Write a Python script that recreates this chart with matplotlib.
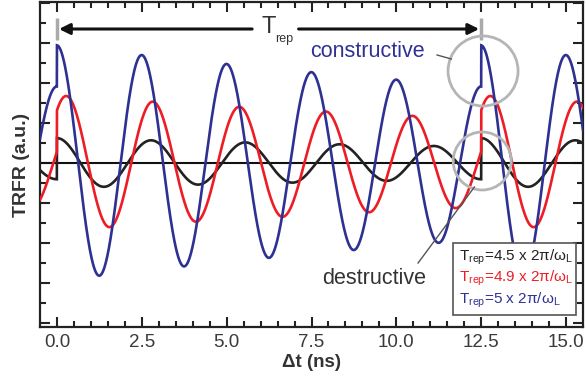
import numpy as np
import matplotlib
matplotlib.use("Agg")
import matplotlib.pyplot as plt
from matplotlib.patches import Ellipse, Rectangle, FancyArrowPatch

plt.rcParams['font.family'] = ['Liberation Sans', 'DejaVu Sans']
plt.rcParams['mathtext.fontset'] = 'custom'
plt.rcParams['mathtext.rm'] = 'Liberation Sans'
plt.rcParams['mathtext.it'] = 'Liberation Sans:italic'

# --- data -------------------------------------------------------------
t_rep = 12.5                              # pulse repetition time (ns)
periods_per_rep = [4.5, 4.9, 5.0]         # T_rep in units of 2*pi/omega_L
series_colors = ['#222222', '#ee1c25', '#2e3192']
legend_labels = ['4.5', '4.9', '5']
amplitude = 1.03                          # single-pulse TRFR amplitude (a.u.)
decay_time = 29.0                         # spin dephasing time (ns)
n_pulses = 30                             # number of previous pulses summed
x_ticks = [0.0, 2.5, 5.0, 7.5, 10.0, 12.5, 15.0]
x_ticklabels = ['0.0', '2.5', '5.0', '7.5', '10.0', '12.5', '15.0']

# --- figure -----------------------------------------------------------
fig = plt.figure(figsize=(5.86, 3.89), dpi=100)
ax = fig.add_axes([40 / 586, 62 / 389, 543 / 586, 325 / 389])

t = np.linspace(-0.5, 15.5, 4000)


def trfr(t, n_per):
    """Sum of damped precession signals from a train of pulses."""
    omega = 2 * np.pi * n_per / t_rep
    sig = np.zeros_like(t)
    for k in range(-1, n_pulses):
        t0 = -k * t_rep
        dt = t - t0
        m = dt >= 0
        sig[m] += amplitude * np.exp(-dt[m] / decay_time) * np.cos(omega * dt[m])
    return sig


for n_per, col in zip(periods_per_rep, series_colors):
    ax.plot(t, trfr(t, n_per), color=col, lw=1.9, solid_joinstyle='miter',
            zorder=3)

ax.axhline(0, color='#111111', lw=1.5, zorder=2)

ax.set_xlim(-0.5, 15.5)
ax.set_ylim(-4.1, 4.025)
ax.set_xticks(x_ticks)
ax.set_xticklabels(x_ticklabels)
ax.set_xticks(np.arange(0, 15.01, 0.5), minor=True)
ax.set_yticks(np.arange(-4, 4.01, 1))
ax.set_yticks(np.arange(-4, 4.01, 0.5), minor=True)
ax.set_yticklabels([])
ax.tick_params(which='both', direction='in', top=True, right=True,
               width=1.5, color='#222222')
ax.tick_params(which='major', length=7)
ax.tick_params(which='minor', length=4)
ax.tick_params(axis='x', labelsize=13.5, labelcolor='#3a3a3a', pad=5)
for s in ax.spines.values():
    s.set_linewidth(1.6)
    s.set_color('#222222')

ax.set_xlabel('Δt (ns)', fontsize=13.5, fontweight='bold', color='#333333',
              labelpad=2)
ax.set_ylabel('TRFR (a.u.)', fontsize=14, fontweight='bold', color='#333333',
              labelpad=4)

# --- repetition period marker ----------------------------------------
for xm in (0.0, t_rep):
    ax.plot([xm, xm], [3.08, 3.62], color='#aaaaaa', lw=2.5, zorder=4,
            solid_capstyle='butt')
y_arr = 3.35
for x_from, x_to in ((5.75, 0.06), (7.12, t_rep - 0.06)):
    ax.add_patch(FancyArrowPatch((x_from, y_arr), (x_to, y_arr),
                                 arrowstyle='-|>', mutation_scale=16,
                                 color='#111111', lw=2.2, shrinkA=0, shrinkB=0,
                                 zorder=5))
ax.text(6.04, 3.4, 'T', fontsize=17, color='#333333',
        ha='left', va='center')
ax.text(6.44, 3.1, 'rep', fontsize=9, color='#333333',
        ha='left', va='center')

# --- highlighted pulse arrivals --------------------------------------
px_x = 33.93   # pixels per ns
px_y = 40.0    # pixels per unit
ax.add_patch(Ellipse((12.555, 2.3), 2 * 35 / px_x, 2 * 35 / px_y, fill=False,
                     ec='#b5b5b5', lw=2, zorder=6))
ax.add_patch(Ellipse((12.53, 0.05), 2 * 29 / px_x, 2 * 29 / px_y, fill=False,
                     ec='#b5b5b5', lw=2, zorder=6))

ax.text(7.46, 2.78, 'constructive', fontsize=15.5, color='#2e3192',
        ha='left', va='center', zorder=7)
ax.plot([11.2, 11.62], [2.7, 2.6], color='#555555', lw=1, zorder=6)
ax.text(7.81, -2.9, 'destructive', fontsize=15.5, color='#333333',
        ha='left', va='center', zorder=7)
ax.plot([10.64, 12.3], [-2.5, -0.6], color='#555555', lw=1, zorder=6)

# --- legend box -------------------------------------------------------
ax.add_patch(Rectangle((0.7606, 0.037), 0.2264, 0.221, transform=ax.transAxes,
                       fc='white', ec='#555555', lw=1.2, zorder=8))
for i, (lab, col) in enumerate(zip(legend_labels, series_colors)):
    ax.text(0.772, 0.215 - i * 0.066,
            r'T$_{\mathrm{rep}}$=' + lab + r' x 2π/ω$_{\mathrm{L}}$',
            transform=ax.transAxes, fontsize=11, color=col, ha='left',
            va='center', zorder=9)

fig.savefig('out.png', dpi=100)
